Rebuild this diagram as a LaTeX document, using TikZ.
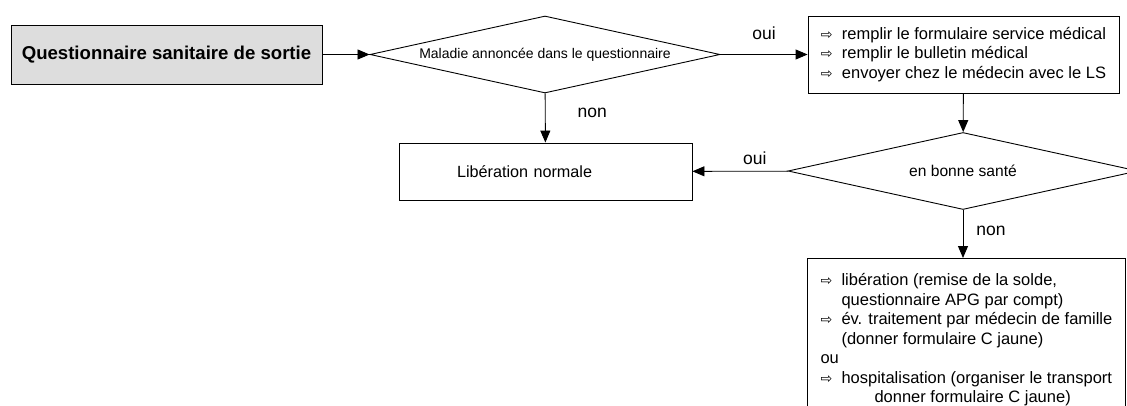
\documentclass[tikz,border=0pt]{standalone}
\usepackage{fontspec}
\setmainfont{Liberation Sans}
\newfontfamily\symfont{DejaVu Sans}
\usepackage{xcolor}
\usetikzlibrary{shapes.geometric,arrows.meta}
\definecolor{boxgray}{HTML}{DDDDDD}
\newcommand{\fleche}{\makebox[21pt][l]{\symfont\fontsize{14}{14}\selectfont ⇨}}

\begin{document}
\begin{tikzpicture}[
    x=1pt, y=-1pt,
    box/.style={rectangle, draw, line width=0.9pt, inner sep=0pt},
    decision/.style={diamond, draw, line width=0.9pt, inner sep=0pt, aspect=4.5,
        minimum width=350pt, minimum height=77pt},
    arrow/.style={-{Triangle[length=12pt,width=10pt]}, line width=0.9pt},
    lbl/.style={inner sep=0pt, font=\fontsize{17.5}{20}\selectfont},
    liste/.style={font=\fontsize{16.5}{19.5}\selectfont, align=left}
]
    \useasboundingbox (0,0) rectangle (1127,406);
    \clip (0,0) rectangle (1127,406);

    % Nodes
    \node[box, fill=boxgray, minimum width=311pt, minimum height=59pt,
        font=\fontsize{18.6}{22}\selectfont\bfseries] (quest) at (166.5,54.5)
        {Questionnaire sanitaire de sortie};
    \node[decision, font=\fontsize{14}{16}\selectfont] (maladie) at (545,54.5)
        {Maladie annoncée dans le questionnaire};
    \node[box, liste, minimum width=311pt, minimum height=77pt] (actions) at (963.5,54.5)
        {\fleche remplir le formulaire service médical\\
         \fleche remplir le bulletin médical\\
         \fleche envoyer chez le médecin avec le LS};
    \node[box, minimum height=57pt, text width=177pt, inner xsep=58pt, align=left,
        font=\fontsize{16.2}{19}\selectfont] (normale) at (545.5,171.5)
        {Libération normale};
    \node[decision, font=\fontsize{15.6}{18}\selectfont] (sante) at (963,171)
        {en bonne santé};
    \node[box, liste, anchor=north west, minimum width=318pt, inner ysep=15pt] (issue) at (807,258)
        {\fleche libération (remise de la solde,\\
         \hspace*{21pt}questionnaire APG par compt)\\
         \fleche év. traitement par médecin de famille\\
         \hspace*{21pt}(donner formulaire C jaune)\\
         ou\\
         \fleche hospitalisation (organiser le transport\\
         \hspace*{54pt}donner formulaire C jaune)};

    % Arrows
    \draw[arrow] (quest) -- (maladie);
    \draw[arrow] (maladie) -- node[lbl, above=14pt] {oui} (actions);
    \draw[arrow] (maladie) -- node[lbl, pos=0.4, right=32pt] {non} (normale);
    \draw[arrow] (actions) -- (sante);
    \draw[arrow] (sante) -- node[lbl, pos=0.35, above=6pt] {oui} (normale);
    \draw[arrow] (sante.south) -- node[lbl, pos=0.43, right=13pt] {non} (sante.south |- issue.north);
\end{tikzpicture}
\end{document}
